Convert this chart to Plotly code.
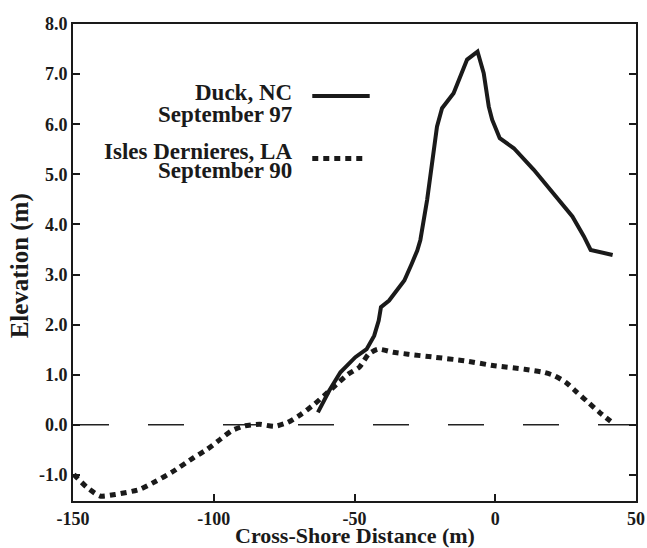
import plotly.graph_objects as go

# Duck, NC - September 97 (solid)
duck_x = [-63.0, -59.0, -55.0, -49.7, -45.7, -43.0, -41.4, -40.6, -37.7, -34.3, -32.3,
          -29.7, -27.7, -26.6, -24.2, -20.7, -18.9, -14.8, -11.8, -10.0, -6.3, -4.1,
          -2.3, -1.1, 1.6, 6.6, 13.7, 20.8, 27.4, 31.5, 33.9, 41.7]
duck_y = [0.25, 0.68, 1.05, 1.35, 1.51, 1.78, 2.08, 2.35, 2.48, 2.75, 2.88,
          3.21, 3.48, 3.69, 4.49, 5.95, 6.32, 6.62, 7.05, 7.29, 7.45, 7.02,
          6.35, 6.09, 5.72, 5.52, 5.09, 4.62, 4.16, 3.76, 3.49, 3.39]

# Isles Dernieres, LA - September 90 (dotted)
isles_x = [-149.7, -145.0, -140.4, -135.0, -126.4, -120.4, -115.0, -107.0, -102.4, -97.7,
           -93.7, -89.0, -83.7, -78.4, -73.7, -69.0, -64.3, -60.3, -56.3, -52.3, -48.3,
           -45.0, -41.7, -36.3, -31.0, -21.6, -11.0, -0.3, 10.4, 17.1, 21.0, 25.0, 29.0,
           33.0, 37.0, 41.0]
isles_y = [-0.99, -1.25, -1.42, -1.39, -1.29, -1.12, -0.95, -0.65, -0.49, -0.29,
           -0.12, -0.02, 0.01, -0.03, 0.05, 0.21, 0.41, 0.61, 0.81, 1.01, 1.15,
           1.41, 1.51, 1.45, 1.41, 1.35, 1.28, 1.18, 1.11, 1.05, 0.98, 0.85, 0.65,
           0.45, 0.25, 0.07]

x_ticks = [-150, -100, -50, 0, 50]
y_ticks = [-1, 0, 1, 2, 3, 4, 5, 6, 7, 8]
y_tick_labels = ["-1.0", "0.0", "1.0", "2.0", "3.0", "4.0", "5.0", "6.0", "7.0", "8.0"]

FONT = "Liberation Serif"
INK = "#1a1a1a"

fig = go.Figure()

fig.add_hline(y=0, line=dict(color="#222", width=1.5, dash="36px,39px"), layer="below")

fig.add_trace(go.Scatter(
    x=isles_x, y=isles_y, mode="lines", name="Isles Dernieres, LA September 90",
    line=dict(color=INK, width=5, dash="6px,5px", shape="spline", smoothing=0.6),
    showlegend=False))
fig.add_trace(go.Scatter(
    x=duck_x, y=duck_y, mode="lines", name="Duck, NC September 97",
    line=dict(color=INK, width=4, shape="linear"),
    showlegend=False))

# Legend (text on left, sample on right)
legend_font = dict(family=FONT, size=23, color=INK, weight="bold")
for txt, yp in [("Duck, NC", 0.857), ("September 97", 0.811),
                ("Isles Dernieres, LA", 0.733), ("September 90", 0.692)]:
    fig.add_annotation(x=0.392, y=yp, xref="paper", yref="paper", text=txt,
                       showarrow=False, xanchor="right", yanchor="middle",
                       font=legend_font)
fig.add_shape(type="line", xref="paper", yref="paper", x0=0.425, x1=0.527,
              y0=0.849, y1=0.849, line=dict(color=INK, width=4))
fig.add_shape(type="line", xref="paper", yref="paper", x0=0.425, x1=0.515,
              y0=0.718, y1=0.718, line=dict(color=INK, width=5, dash="6px,5px"))

tickfont = dict(family=FONT, size=18, color=INK, weight="bold")
titlefont = dict(family=FONT, size=22, color=INK, weight="bold")

# Axis titles as annotations for exact placement
fig.add_annotation(x=0.5, y=-0.072, xref="paper", yref="paper",
                   text="Cross-Shore Distance (m)", showarrow=False,
                   xanchor="center", yanchor="middle", font=titlefont)
fig.add_annotation(x=-0.095, y=0.493, xref="paper", yref="paper",
                   text="Elevation (m)", showarrow=False, textangle=-90,
                   xanchor="center", yanchor="middle",
                   font=dict(family=FONT, size=25, color=INK, weight="bold"))

fig.update_xaxes(range=[-150, 50], tickvals=x_ticks, ticktext=[str(v) for v in x_ticks],
                 ticks="inside", ticklen=7, tickwidth=1.5, tickcolor=INK,
                 showline=True, linewidth=2, linecolor=INK, mirror=True,
                 showgrid=False, zeroline=False, tickfont=tickfont, automargin=False)
fig.update_yaxes(range=[-1.52, 8.0], tickvals=y_ticks, ticktext=y_tick_labels,
                 ticks="inside", ticklen=7, tickwidth=1.5, tickcolor=INK,
                 showline=True, linewidth=2, linecolor=INK, mirror="ticks",
                 showgrid=False, zeroline=False, tickfont=tickfont, automargin=False)

fig.update_layout(width=647, height=548, margin=dict(l=73, r=11, t=24, b=47),
                  paper_bgcolor="white", plot_bgcolor="white",
                  font=dict(family=FONT))

fig.write_html("out.html", config={"displayModeBar": False},
               post_script="document.body.style.margin='0';")
